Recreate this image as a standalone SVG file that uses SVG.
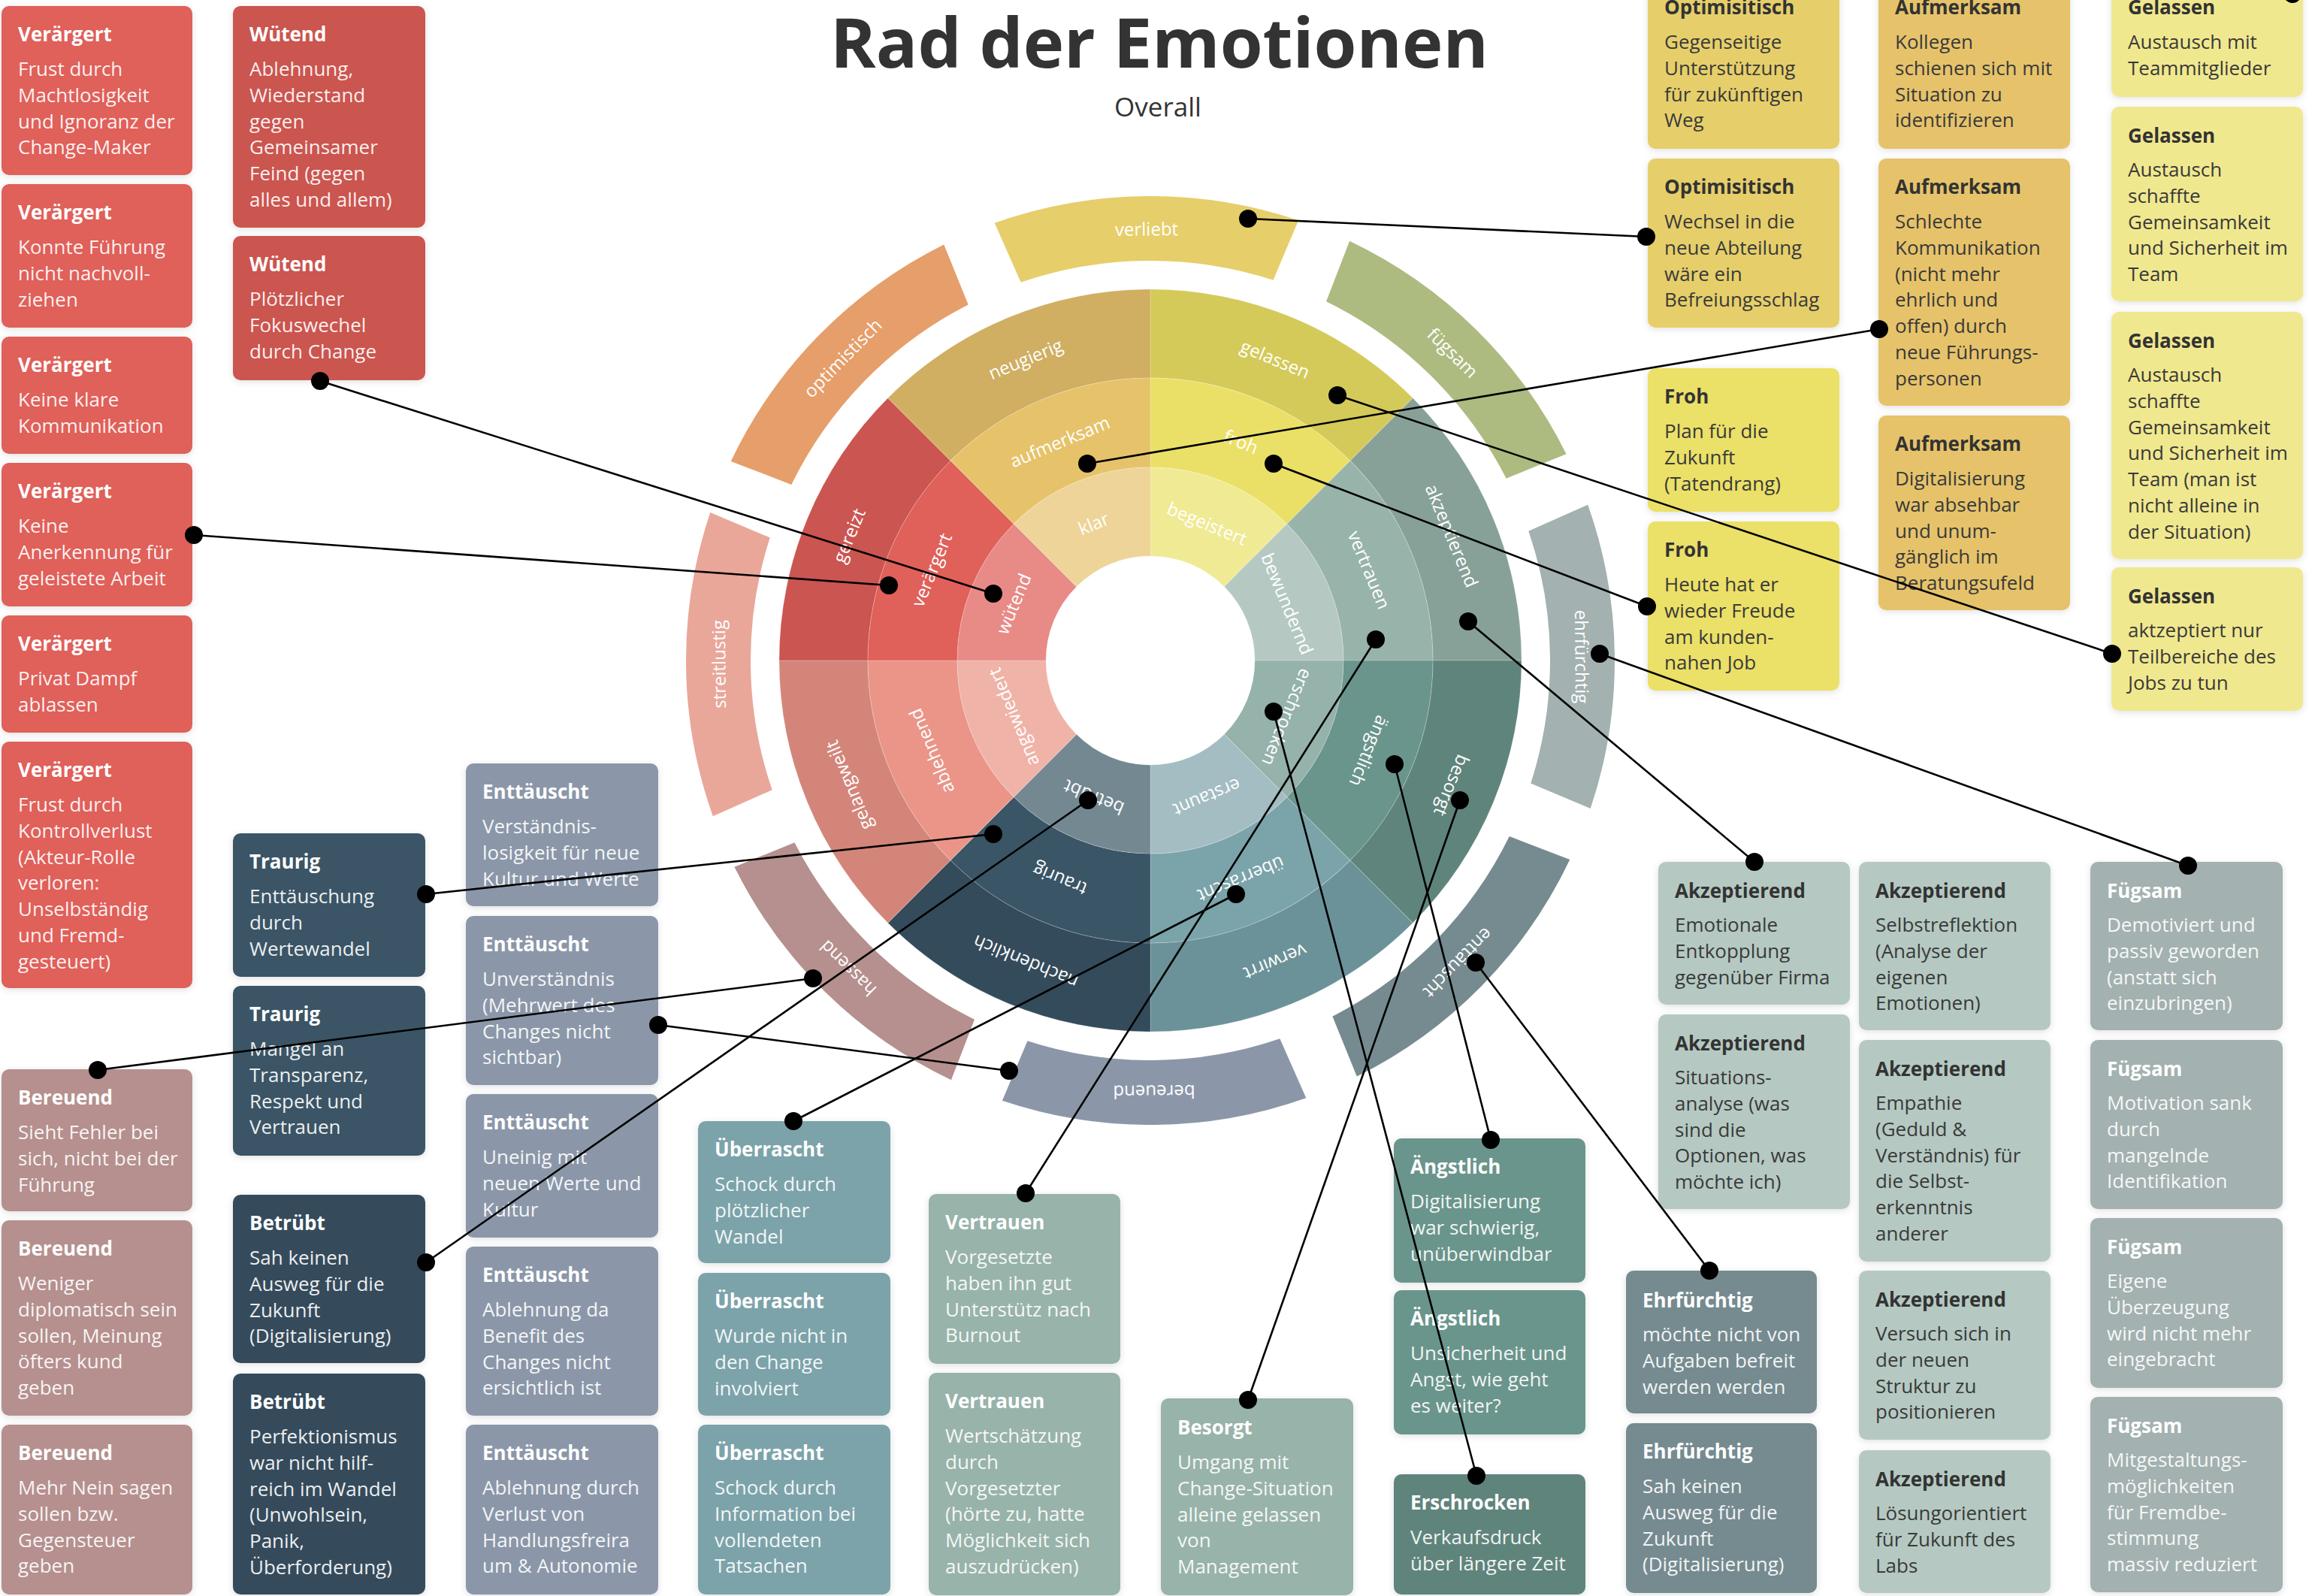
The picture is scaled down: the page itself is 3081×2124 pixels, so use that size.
<svg xmlns="http://www.w3.org/2000/svg" width="3081" height="2124" viewBox="0 0 3081 2124">
<defs>
  <style>
    text { font-family: "Open Sans", "Noto Sans", "DejaVu Sans", sans-serif; }
    .card { filter: url(#sh); }
    .t { font-weight: 700; font-size: 26px; }
    .b { font-weight: 400; font-size: 26px; }
    .w { fill: #ffffff; }
    .wb { fill: #ffffff; fill-opacity: 0.92; }
    .d { fill: #333333; }
    .db { fill: #3a3a3a; }
    .lbl { fill: #ffffff; font-size: 24px; text-anchor: middle; dominant-baseline: central; }
    .seg { stroke: #ffffff; stroke-opacity: 0.22; stroke-width: 1; }
    .cn line { stroke: #000000; stroke-width: 2.6; }
    .cn circle { fill: #000000; }
    .c-verargert { fill: #E0605A; }
    .c-wutend { fill: #CB5550; }
    .c-bereuend { fill: #B5908E; }
    .c-traurig { fill: #3A5566; }
    .c-betrubt { fill: #344B5B; }
    .c-enttauscht { fill: #8B97A9; }
    .c-uberrascht { fill: #7BA3AA; }
    .c-vertrauen { fill: #98B3AA; }
    .c-besorgt { fill: #98B3AA; }
    .c-angstlich { fill: #6A958C; }
    .c-erschrocken { fill: #5F847C; }
    .c-ehrfurchtig { fill: #768B90; }
    .c-akzeptierend { fill: #B5C9C2; }
    .c-fugsam { fill: #A3B1B0; }
    .c-optimistisch { fill: #E6CF6A; }
    .c-aufmerksam { fill: #E6C36A; }
    .c-froh { fill: #EBE067; }
    .c-gelassen { fill: #F0E88E; }
  </style>
  <filter id="sh" x="-10%" y="-10%" width="120%" height="125%">
    <feDropShadow dx="0" dy="2" stdDeviation="5" flood-color="#000000" flood-opacity="0.12"/>
  </filter>
  <!-- 45 degree ring segments, starting at 12 o'clock and running clockwise -->
  <path id="s1" class="seg" d="M0,-257 A257,257 0 0 1 181.73,-181.73 L98.29,-98.29 A139,139 0 0 0 0,-139 Z"/>
  <path id="s2" class="seg" d="M0,-376 A376,376 0 0 1 265.87,-265.87 L181.73,-181.73 A257,257 0 0 0 0,-257 Z"/>
  <path id="s3" class="seg" d="M0,-494 A494,494 0 0 1 349.31,-349.31 L265.87,-265.87 A376,376 0 0 0 0,-376 Z"/>
  <!-- outer band segment centred on 12 o'clock -->
  <path id="oa" d="M-202.22,-583.98 A618,618 0 0 1 202.22,-583.98 L167.93,-504.8 A532,532 0 0 0 -167.93,-504.8 Z"/>
</defs>

<rect x="0" y="0" width="3081" height="2124" fill="#ffffff"/>

<!-- heading -->
<g id="title">
  <text x="1543" y="90" text-anchor="middle" font-size="92" font-weight="700" fill="#333333">Rad der Emotionen</text>
  <text x="1541" y="155" text-anchor="middle" font-size="35" fill="#333333">Overall</text>
</g>

<!-- emotion wheel -->
<g id="wheel" transform="translate(1531,879)">
  <g id="sector-gelassen" transform="rotate(0)">
    <use href="#s3" fill="#D4CA5A"/><use href="#s2" fill="#EBE067"/><use href="#s1" fill="#F0EA94"/>
  </g>
  <g id="sector-akzeptierend" transform="rotate(45)">
    <use href="#s3" fill="#88A198"/><use href="#s2" fill="#98B3AA"/><use href="#s1" fill="#B5C9C2"/>
  </g>
  <g id="sector-besorgt" transform="rotate(90)">
    <use href="#s3" fill="#5F847C"/><use href="#s2" fill="#6A958C"/><use href="#s1" fill="#95B2AB"/>
  </g>
  <g id="sector-verwirrt" transform="rotate(135)">
    <use href="#s3" fill="#6B9298"/><use href="#s2" fill="#7BA3AA"/><use href="#s1" fill="#A3BDC2"/>
  </g>
  <g id="sector-nachdenklich" transform="rotate(180)">
    <use href="#s3" fill="#344B5B"/><use href="#s2" fill="#3A5566"/><use href="#s1" fill="#738891"/>
  </g>
  <g id="sector-gelangweilt" transform="rotate(225)">
    <use href="#s3" fill="#D48579"/><use href="#s2" fill="#EA9588"/><use href="#s1" fill="#F0B3A8"/>
  </g>
  <g id="sector-gereizt" transform="rotate(270)">
    <use href="#s3" fill="#CB5550"/><use href="#s2" fill="#E0605A"/><use href="#s1" fill="#E88A86"/>
  </g>
  <g id="sector-neugierig" transform="rotate(315)">
    <use href="#s3" fill="#D0AE62"/><use href="#s2" fill="#E6C36A"/><use href="#s1" fill="#EED498"/>
  </g>

  <!-- ring labels, turned with their sector -->
  <g class="lbl">
    <g transform="rotate(22.5)"><text class="lbl" y="-435">gelassen</text><text class="lbl" y="-316">froh</text><text class="lbl" y="-198">begeistert</text></g>
    <g transform="rotate(67.5)"><text class="lbl" y="-435">akzeptierend</text><text class="lbl" y="-316">vertrauen</text><text class="lbl" y="-198">bewundernd</text></g>
    <g transform="rotate(112.5)"><text class="lbl" y="-435">besorgt</text><text class="lbl" y="-316">ängstlich</text><text class="lbl" y="-198">erschrocken</text></g>
    <g transform="rotate(157.5)"><text class="lbl" y="-435">verwirrt</text><text class="lbl" y="-316">überrascht</text><text class="lbl" y="-198">erstaunt</text></g>
    <g transform="rotate(202.5)"><text class="lbl" y="-435">nachdenklich</text><text class="lbl" y="-316">traurig</text><text class="lbl" y="-198">betrübt</text></g>
    <g transform="rotate(247.5)"><text class="lbl" y="-435">gelangweilt</text><text class="lbl" y="-316">ablehnend</text><text class="lbl" y="-198">angewiedert</text></g>
    <g transform="rotate(292.5)"><text class="lbl" y="-435">gereizt</text><text class="lbl" y="-316">verärgert</text><text class="lbl" y="-198">wütend</text></g>
    <g transform="rotate(337.5)"><text class="lbl" y="-435">neugierig</text><text class="lbl" y="-316">aufmerksam</text><text class="lbl" y="-198">klar</text></g>
  </g>

  <!-- outer band -->
  <g id="arc-verliebt" transform="rotate(-0.5)"><use href="#oa" fill="#E6CE6A"/><text class="lbl" y="-575">verliebt</text></g>
  <g id="arc-fugsam" transform="rotate(44.5)"><use href="#oa" fill="#ADBB80"/><text class="lbl" y="-575">fügsam</text></g>
  <g id="arc-ehrfurchtig" transform="rotate(89.5)"><use href="#oa" fill="#A3B1B0"/><text class="lbl" y="-575">ehrfürchtig</text></g>
  <g id="arc-enttauscht" transform="rotate(134.5)"><use href="#oa" fill="#768B90"/><text class="lbl" y="-575">enttäuscht</text></g>
  <g id="arc-bereuend" transform="rotate(179.5)"><use href="#oa" fill="#8B97A9"/><text class="lbl" y="-575">bereuend</text></g>
  <g id="arc-hassend" transform="rotate(224.5)"><use href="#oa" fill="#B5908E"/><text class="lbl" y="-575">hassend</text></g>
  <g id="arc-streitlustig" transform="rotate(269.5)"><use href="#oa" fill="#E9A79A"/><text class="lbl" y="-575">streitlustig</text></g>
  <g id="arc-optimistisch" transform="rotate(314.5)"><use href="#oa" fill="#E69E6A"/><text class="lbl" y="-575">optimistisch</text></g>
</g>

<!-- ===== cards: left column ===== -->
<g id="card-verargert-1" transform="translate(2,8)">
  <rect class="card c-verargert" width="254" height="225" rx="10"/>
  <text class="t w" x="22" y="47">Verärgert</text>
  <text class="b wb" y="93"><tspan x="22">Frust durch</tspan><tspan x="22" dy="34.8">Machtlosigkeit</tspan><tspan x="22" dy="34.8">und Ignoranz der</tspan><tspan x="22" dy="34.8">Change-Maker</tspan></text>
</g>
<g id="card-verargert-2" transform="translate(2,245)">
  <rect class="card c-verargert" width="254" height="191" rx="10"/>
  <text class="t w" x="22" y="47">Verärgert</text>
  <text class="b wb" y="93"><tspan x="22">Konnte Führung</tspan><tspan x="22" dy="34.8">nicht nachvoll-</tspan><tspan x="22" dy="34.8">ziehen</tspan></text>
</g>
<g id="card-verargert-3" transform="translate(2,448)">
  <rect class="card c-verargert" width="254" height="156" rx="10"/>
  <text class="t w" x="22" y="47">Verärgert</text>
  <text class="b wb" y="93"><tspan x="22">Keine klare</tspan><tspan x="22" dy="34.8">Kommunikation</tspan></text>
</g>
<g id="card-verargert-4" transform="translate(2,616)">
  <rect class="card c-verargert" width="254" height="191" rx="10"/>
  <text class="t w" x="22" y="47">Verärgert</text>
  <text class="b wb" y="93"><tspan x="22">Keine</tspan><tspan x="22" dy="34.8">Anerkennung für</tspan><tspan x="22" dy="34.8">geleistete Arbeit</tspan></text>
</g>
<g id="card-verargert-5" transform="translate(2,819)">
  <rect class="card c-verargert" width="254" height="156" rx="10"/>
  <text class="t w" x="22" y="47">Verärgert</text>
  <text class="b wb" y="93"><tspan x="22">Privat Dampf</tspan><tspan x="22" dy="34.8">ablassen</tspan></text>
</g>
<g id="card-verargert-6" transform="translate(2,987)">
  <rect class="card c-verargert" width="254" height="328" rx="10"/>
  <text class="t w" x="22" y="47">Verärgert</text>
  <text class="b wb" y="93"><tspan x="22">Frust durch</tspan><tspan x="22" dy="34.8">Kontrollverlust</tspan><tspan x="22" dy="34.8">(Akteur-Rolle</tspan><tspan x="22" dy="34.8">verloren:</tspan><tspan x="22" dy="34.8">Unselbständig</tspan><tspan x="22" dy="34.8">und Fremd-</tspan><tspan x="22" dy="34.8">gesteuert)</tspan></text>
</g>
<g id="card-bereuend-1" transform="translate(2,1423)">
  <rect class="card c-bereuend" width="254" height="189" rx="10"/>
  <text class="t w" x="22" y="47">Bereuend</text>
  <text class="b wb" y="93"><tspan x="22">Sieht Fehler bei</tspan><tspan x="22" dy="34.8">sich, nicht bei der</tspan><tspan x="22" dy="34.8">Führung</tspan></text>
</g>
<g id="card-bereuend-2" transform="translate(2,1624)">
  <rect class="card c-bereuend" width="254" height="260" rx="10"/>
  <text class="t w" x="22" y="47">Bereuend</text>
  <text class="b wb" y="93"><tspan x="22">Weniger</tspan><tspan x="22" dy="34.8">diplomatisch sein</tspan><tspan x="22" dy="34.8">sollen, Meinung</tspan><tspan x="22" dy="34.8">öfters kund</tspan><tspan x="22" dy="34.8">geben</tspan></text>
</g>
<g id="card-bereuend-3" transform="translate(2,1896)">
  <rect class="card c-bereuend" width="254" height="226" rx="10"/>
  <text class="t w" x="22" y="47">Bereuend</text>
  <text class="b wb" y="93"><tspan x="22">Mehr Nein sagen</tspan><tspan x="22" dy="34.8">sollen bzw.</tspan><tspan x="22" dy="34.8">Gegensteuer</tspan><tspan x="22" dy="34.8">geben</tspan></text>
</g>

<!-- ===== second column ===== -->
<g id="card-wutend-1" transform="translate(310,8)">
  <rect class="card c-wutend" width="256" height="295" rx="10"/>
  <text class="t w" x="22" y="47">Wütend</text>
  <text class="b wb" y="93"><tspan x="22">Ablehnung,</tspan><tspan x="22" dy="34.8">Wiederstand</tspan><tspan x="22" dy="34.8">gegen</tspan><tspan x="22" dy="34.8">Gemeinsamer</tspan><tspan x="22" dy="34.8">Feind (gegen</tspan><tspan x="22" dy="34.8">alles und allem)</tspan></text>
</g>
<g id="card-wutend-2" transform="translate(310,314)">
  <rect class="card c-wutend" width="256" height="192" rx="10"/>
  <text class="t w" x="22" y="47">Wütend</text>
  <text class="b wb" y="93"><tspan x="22">Plötzlicher</tspan><tspan x="22" dy="34.8">Fokuswechel</tspan><tspan x="22" dy="34.8">durch Change</tspan></text>
</g>
<g id="card-traurig-1" transform="translate(310,1109)">
  <rect class="card c-traurig" width="256" height="191" rx="10"/>
  <text class="t w" x="22" y="47">Traurig</text>
  <text class="b wb" y="93"><tspan x="22">Enttäuschung</tspan><tspan x="22" dy="34.8">durch</tspan><tspan x="22" dy="34.8">Wertewandel</tspan></text>
</g>
<g id="card-traurig-2" transform="translate(310,1312)">
  <rect class="card c-traurig" width="256" height="226" rx="10"/>
  <text class="t w" x="22" y="47">Traurig</text>
  <text class="b wb" y="93"><tspan x="22">Mangel an</tspan><tspan x="22" dy="34.8">Transparenz,</tspan><tspan x="22" dy="34.8">Respekt und</tspan><tspan x="22" dy="34.8">Vertrauen</tspan></text>
</g>
<g id="card-betrubt-1" transform="translate(310,1590)">
  <rect class="card c-betrubt" width="256" height="224" rx="10"/>
  <text class="t w" x="22" y="47">Betrübt</text>
  <text class="b wb" y="93"><tspan x="22">Sah keinen</tspan><tspan x="22" dy="34.8">Ausweg für die</tspan><tspan x="22" dy="34.8">Zukunft</tspan><tspan x="22" dy="34.8">(Digitalisierung)</tspan></text>
</g>
<g id="card-betrubt-2" transform="translate(310,1828)">
  <rect class="card c-betrubt" width="256" height="294" rx="10"/>
  <text class="t w" x="22" y="47">Betrübt</text>
  <text class="b wb" y="93"><tspan x="22">Perfektionismus</tspan><tspan x="22" dy="34.8">war nicht hilf-</tspan><tspan x="22" dy="34.8">reich im Wandel</tspan><tspan x="22" dy="34.8">(Unwohlsein,</tspan><tspan x="22" dy="34.8">Panik,</tspan><tspan x="22" dy="34.8">Überforderung)</tspan></text>
</g>

<!-- ===== third column ===== -->
<g id="card-enttauscht-1" transform="translate(620,1016)">
  <rect class="card c-enttauscht" width="256" height="190" rx="10"/>
  <text class="t w" x="22" y="47">Enttäuscht</text>
  <text class="b wb" y="93"><tspan x="22">Verständnis-</tspan><tspan x="22" dy="34.8">losigkeit für neue</tspan><tspan x="22" dy="34.8">Kultur und Werte</tspan></text>
</g>
<g id="card-enttauscht-2" transform="translate(620,1219)">
  <rect class="card c-enttauscht" width="256" height="225" rx="10"/>
  <text class="t w" x="22" y="47">Enttäuscht</text>
  <text class="b wb" y="93"><tspan x="22">Unverständnis</tspan><tspan x="22" dy="34.8">(Mehrwert des</tspan><tspan x="22" dy="34.8">Changes nicht</tspan><tspan x="22" dy="34.8">sichtbar)</tspan></text>
</g>
<g id="card-enttauscht-3" transform="translate(620,1456)">
  <rect class="card c-enttauscht" width="256" height="191" rx="10"/>
  <text class="t w" x="22" y="47">Enttäuscht</text>
  <text class="b wb" y="93"><tspan x="22">Uneinig mit</tspan><tspan x="22" dy="34.8">neuen Werte und</tspan><tspan x="22" dy="34.8">Kultur</tspan></text>
</g>
<g id="card-enttauscht-4" transform="translate(620,1659)">
  <rect class="card c-enttauscht" width="256" height="225" rx="10"/>
  <text class="t w" x="22" y="47">Enttäuscht</text>
  <text class="b wb" y="93"><tspan x="22">Ablehnung da</tspan><tspan x="22" dy="34.8">Benefit des</tspan><tspan x="22" dy="34.8">Changes nicht</tspan><tspan x="22" dy="34.8">ersichtlich ist</tspan></text>
</g>
<g id="card-enttauscht-5" transform="translate(620,1896)">
  <rect class="card c-enttauscht" width="256" height="226" rx="10"/>
  <text class="t w" x="22" y="47">Enttäuscht</text>
  <text class="b wb" y="93"><tspan x="22">Ablehnung durch</tspan><tspan x="22" dy="34.8">Verlust von</tspan><tspan x="22" dy="34.8">Handlungsfreira</tspan><tspan x="22" dy="34.8">um &amp; Autonomie</tspan></text>
</g>

<!-- ===== fourth column ===== -->
<g id="card-uberrascht-1" transform="translate(929,1492)">
  <rect class="card c-uberrascht" width="256" height="189" rx="10"/>
  <text class="t w" x="22" y="47">Überrascht</text>
  <text class="b wb" y="93"><tspan x="22">Schock durch</tspan><tspan x="22" dy="34.8">plötzlicher</tspan><tspan x="22" dy="34.8">Wandel</tspan></text>
</g>
<g id="card-uberrascht-2" transform="translate(929,1694)">
  <rect class="card c-uberrascht" width="256" height="190" rx="10"/>
  <text class="t w" x="22" y="47">Überrascht</text>
  <text class="b wb" y="93"><tspan x="22">Wurde nicht in</tspan><tspan x="22" dy="34.8">den Change</tspan><tspan x="22" dy="34.8">involviert</tspan></text>
</g>
<g id="card-uberrascht-3" transform="translate(929,1896)">
  <rect class="card c-uberrascht" width="256" height="226" rx="10"/>
  <text class="t w" x="22" y="47">Überrascht</text>
  <text class="b wb" y="93"><tspan x="22">Schock durch</tspan><tspan x="22" dy="34.8">Information bei</tspan><tspan x="22" dy="34.8">vollendeten</tspan><tspan x="22" dy="34.8">Tatsachen</tspan></text>
</g>

<!-- ===== fifth column ===== -->
<g id="card-vertrauen-1" transform="translate(1236,1589)">
  <rect class="card c-vertrauen" width="255" height="226" rx="10"/>
  <text class="t w" x="22" y="47">Vertrauen</text>
  <text class="b wb" y="93"><tspan x="22">Vorgesetzte</tspan><tspan x="22" dy="34.8">haben ihn gut</tspan><tspan x="22" dy="34.8">Unterstütz nach</tspan><tspan x="22" dy="34.8">Burnout</tspan></text>
</g>
<g id="card-vertrauen-2" transform="translate(1236,1827)">
  <rect class="card c-vertrauen" width="255" height="296" rx="10"/>
  <text class="t w" x="22" y="47">Vertrauen</text>
  <text class="b wb" y="93"><tspan x="22">Wertschätzung</tspan><tspan x="22" dy="34.8">durch</tspan><tspan x="22" dy="34.8">Vorgesetzter</tspan><tspan x="22" dy="34.8">(hörte zu, hatte</tspan><tspan x="22" dy="34.8">Möglichkeit sich</tspan><tspan x="22" dy="34.8">auszudrücken)</tspan></text>
</g>

<!-- ===== sixth column ===== -->
<g id="card-besorgt-1" transform="translate(1545,1861)">
  <rect class="card c-besorgt" width="256" height="262" rx="10"/>
  <text class="t w" x="22" y="48">Besorgt</text>
  <text class="b wb" y="94"><tspan x="22">Umgang mit</tspan><tspan x="22" dy="34.8">Change-Situation</tspan><tspan x="22" dy="34.8">alleine gelassen</tspan><tspan x="22" dy="34.8">von</tspan><tspan x="22" dy="34.8">Management</tspan></text>
</g>

<!-- ===== seventh column ===== -->
<g id="card-angstlich-1" transform="translate(1855,1515)">
  <rect class="card c-angstlich" width="255" height="192" rx="10"/>
  <text class="t w" x="22" y="47">Ängstlich</text>
  <text class="b wb" y="93"><tspan x="22">Digitalisierung</tspan><tspan x="22" dy="34.8">war schwierig,</tspan><tspan x="22" dy="34.8">unüberwindbar</tspan></text>
</g>
<g id="card-angstlich-2" transform="translate(1855,1717)">
  <rect class="card c-angstlich" width="255" height="192" rx="10"/>
  <text class="t w" x="22" y="47">Ängstlich</text>
  <text class="b wb" y="93"><tspan x="22">Unsicherheit und</tspan><tspan x="22" dy="34.8">Angst, wie geht</tspan><tspan x="22" dy="34.8">es weiter?</tspan></text>
</g>
<g id="card-erschrocken-1" transform="translate(1855,1962)">
  <rect class="card c-erschrocken" width="255" height="160" rx="10"/>
  <text class="t w" x="22" y="47">Erschrocken</text>
  <text class="b wb" y="93"><tspan x="22">Verkaufsdruck</tspan><tspan x="22" dy="34.8">über längere Zeit</tspan></text>
</g>

<!-- ===== eighth column ===== -->
<g id="card-ehrfurchtig-1" transform="translate(2164,1691)">
  <rect class="card c-ehrfurchtig" width="254" height="190" rx="10"/>
  <text class="t w" x="22" y="49">Ehrfürchtig</text>
  <text class="b wb" y="94"><tspan x="22">möchte nicht von</tspan><tspan x="22" dy="34.8">Aufgaben befreit</tspan><tspan x="22" dy="34.8">werden werden</tspan></text>
</g>
<g id="card-ehrfurchtig-2" transform="translate(2164,1894)">
  <rect class="card c-ehrfurchtig" width="254" height="226" rx="10"/>
  <text class="t w" x="22" y="47">Ehrfürchtig</text>
  <text class="b wb" y="93"><tspan x="22">Sah keinen</tspan><tspan x="22" dy="34.8">Ausweg für die</tspan><tspan x="22" dy="34.8">Zukunft</tspan><tspan x="22" dy="34.8">(Digitalisierung)</tspan></text>
</g>

<!-- ===== Akzeptierend columns ===== -->
<g id="card-akzeptierend-1" transform="translate(2207,1147)">
  <rect class="card c-akzeptierend" width="255" height="190" rx="10"/>
  <text class="t d" x="22" y="48">Akzeptierend</text>
  <text class="b db" y="93"><tspan x="22">Emotionale</tspan><tspan x="22" dy="34.8">Entkopplung</tspan><tspan x="22" dy="34.8">gegenüber Firma</tspan></text>
</g>
<g id="card-akzeptierend-2" transform="translate(2207,1350)">
  <rect class="card c-akzeptierend" width="255" height="259" rx="10"/>
  <text class="t d" x="22" y="48">Akzeptierend</text>
  <text class="b db" y="93"><tspan x="22">Situations-</tspan><tspan x="22" dy="34.8">analyse (was</tspan><tspan x="22" dy="34.8">sind die</tspan><tspan x="22" dy="34.8">Optionen, was</tspan><tspan x="22" dy="34.8">möchte ich)</tspan></text>
</g>
<g id="card-akzeptierend-3" transform="translate(2474,1147)">
  <rect class="card c-akzeptierend" width="255" height="224" rx="10"/>
  <text class="t d" x="22" y="48">Akzeptierend</text>
  <text class="b db" y="93"><tspan x="22">Selbstreflektion</tspan><tspan x="22" dy="34.8">(Analyse der</tspan><tspan x="22" dy="34.8">eigenen</tspan><tspan x="22" dy="34.8">Emotionen)</tspan></text>
</g>
<g id="card-akzeptierend-4" transform="translate(2474,1384)">
  <rect class="card c-akzeptierend" width="255" height="295" rx="10"/>
  <text class="t d" x="22" y="48">Akzeptierend</text>
  <text class="b db" y="93"><tspan x="22">Empathie</tspan><tspan x="22" dy="34.8">(Geduld &amp;</tspan><tspan x="22" dy="34.8">Verständnis) für</tspan><tspan x="22" dy="34.8">die Selbst-</tspan><tspan x="22" dy="34.8">erkenntnis</tspan><tspan x="22" dy="34.8">anderer</tspan></text>
</g>
<g id="card-akzeptierend-5" transform="translate(2474,1691)">
  <rect class="card c-akzeptierend" width="255" height="225" rx="10"/>
  <text class="t d" x="22" y="48">Akzeptierend</text>
  <text class="b db" y="93"><tspan x="22">Versuch sich in</tspan><tspan x="22" dy="34.8">der neuen</tspan><tspan x="22" dy="34.8">Struktur zu</tspan><tspan x="22" dy="34.8">positionieren</tspan></text>
</g>
<g id="card-akzeptierend-6" transform="translate(2474,1930)">
  <rect class="card c-akzeptierend" width="255" height="190" rx="10"/>
  <text class="t d" x="22" y="48">Akzeptierend</text>
  <text class="b db" y="93"><tspan x="22">Lösungorientiert</tspan><tspan x="22" dy="34.8">für Zukunft des</tspan><tspan x="22" dy="34.8">Labs</tspan></text>
</g>

<!-- ===== Fügsam column ===== -->
<g id="card-fugsam-1" transform="translate(2782,1147)">
  <rect class="card c-fugsam" width="256" height="224" rx="10"/>
  <text class="t w" x="22" y="48">Fügsam</text>
  <text class="b wb" y="93"><tspan x="22">Demotiviert und</tspan><tspan x="22" dy="34.8">passiv geworden</tspan><tspan x="22" dy="34.8">(anstatt sich</tspan><tspan x="22" dy="34.8">einzubringen)</tspan></text>
</g>
<g id="card-fugsam-2" transform="translate(2782,1384)">
  <rect class="card c-fugsam" width="256" height="225" rx="10"/>
  <text class="t w" x="22" y="48">Fügsam</text>
  <text class="b wb" y="93"><tspan x="22">Motivation sank</tspan><tspan x="22" dy="34.8">durch</tspan><tspan x="22" dy="34.8">mangelnde</tspan><tspan x="22" dy="34.8">Identifikation</tspan></text>
</g>
<g id="card-fugsam-3" transform="translate(2782,1621)">
  <rect class="card c-fugsam" width="256" height="226" rx="10"/>
  <text class="t w" x="22" y="48">Fügsam</text>
  <text class="b wb" y="93"><tspan x="22">Eigene</tspan><tspan x="22" dy="34.8">Überzeugung</tspan><tspan x="22" dy="34.8">wird nicht mehr</tspan><tspan x="22" dy="34.8">eingebracht</tspan></text>
</g>
<g id="card-fugsam-4" transform="translate(2782,1859)">
  <rect class="card c-fugsam" width="256" height="260" rx="10"/>
  <text class="t w" x="22" y="48">Fügsam</text>
  <text class="b wb" y="93"><tspan x="22">Mitgestaltungs-</tspan><tspan x="22" dy="34.8">möglichkeiten</tspan><tspan x="22" dy="34.8">für Fremdbe-</tspan><tspan x="22" dy="34.8">stimmung</tspan><tspan x="22" dy="34.8">massiv reduziert</tspan></text>
</g>

<!-- ===== top right ===== -->
<g id="card-optimisitisch-1" transform="translate(2193,-28)">
  <rect class="card c-optimistisch" width="255" height="226" rx="10"/>
  <text class="t d" x="22" y="47">Optimisitisch</text>
  <text class="b db" y="93"><tspan x="22">Gegenseitige</tspan><tspan x="22" dy="34.8">Unterstützung</tspan><tspan x="22" dy="34.8">für zukünftigen</tspan><tspan x="22" dy="34.8">Weg</tspan></text>
</g>
<g id="card-optimisitisch-2" transform="translate(2193,211)">
  <rect class="card c-optimistisch" width="255" height="225" rx="10"/>
  <text class="t d" x="22" y="47">Optimisitisch</text>
  <text class="b db" y="93"><tspan x="22">Wechsel in die</tspan><tspan x="22" dy="34.8">neue Abteilung</tspan><tspan x="22" dy="34.8">wäre ein</tspan><tspan x="22" dy="34.8">Befreiungsschlag</tspan></text>
</g>
<g id="card-froh-1" transform="translate(2193,490)">
  <rect class="card c-froh" width="255" height="191" rx="10"/>
  <text class="t d" x="22" y="47">Froh</text>
  <text class="b db" y="93"><tspan x="22">Plan für die</tspan><tspan x="22" dy="34.8">Zukunft</tspan><tspan x="22" dy="34.8">(Tatendrang)</tspan></text>
</g>
<g id="card-froh-2" transform="translate(2193,694)">
  <rect class="card c-froh" width="255" height="225" rx="10"/>
  <text class="t d" x="22" y="47">Froh</text>
  <text class="b db" y="93"><tspan x="22">Heute hat er</tspan><tspan x="22" dy="34.8">wieder Freude</tspan><tspan x="22" dy="34.8">am kunden-</tspan><tspan x="22" dy="34.8">nahen Job</tspan></text>
</g>
<g id="card-aufmerksam-1" transform="translate(2500,-28)">
  <rect class="card c-aufmerksam" width="255" height="226" rx="10"/>
  <text class="t d" x="22" y="47">Aufmerksam</text>
  <text class="b db" y="93"><tspan x="22">Kollegen</tspan><tspan x="22" dy="34.8">schienen sich mit</tspan><tspan x="22" dy="34.8">Situation zu</tspan><tspan x="22" dy="34.8">identifizieren</tspan></text>
</g>
<g id="card-aufmerksam-2" transform="translate(2500,211)">
  <rect class="card c-aufmerksam" width="255" height="329" rx="10"/>
  <text class="t d" x="22" y="47">Aufmerksam</text>
  <text class="b db" y="93"><tspan x="22">Schlechte</tspan><tspan x="22" dy="34.8">Kommunikation</tspan><tspan x="22" dy="34.8">(nicht mehr</tspan><tspan x="22" dy="34.8">ehrlich und</tspan><tspan x="22" dy="34.8">offen) durch</tspan><tspan x="22" dy="34.8">neue Führungs-</tspan><tspan x="22" dy="34.8">personen</tspan></text>
</g>
<g id="card-aufmerksam-3" transform="translate(2500,553)">
  <rect class="card c-aufmerksam" width="255" height="259" rx="10"/>
  <text class="t d" x="22" y="47">Aufmerksam</text>
  <text class="b db" y="93"><tspan x="22">Digitalisierung</tspan><tspan x="22" dy="34.8">war absehbar</tspan><tspan x="22" dy="34.8">und unum-</tspan><tspan x="22" dy="34.8">gänglich im</tspan><tspan x="22" dy="34.8">Beratungsufeld</tspan></text>
</g>
<g id="card-gelassen-1" transform="translate(2810,-28)">
  <rect class="card c-gelassen" width="255" height="157" rx="10"/>
  <text class="t d" x="22" y="47">Gelassen</text>
  <text class="b db" y="93"><tspan x="22">Austausch mit</tspan><tspan x="22" dy="34.8">Teammitglieder</tspan></text>
</g>
<g id="card-gelassen-2" transform="translate(2810,142)">
  <rect class="card c-gelassen" width="255" height="259" rx="10"/>
  <text class="t d" x="22" y="48">Gelassen</text>
  <text class="b db" y="93"><tspan x="22">Austausch</tspan><tspan x="22" dy="34.8">schaffte</tspan><tspan x="22" dy="34.8">Gemeinsamkeit</tspan><tspan x="22" dy="34.8">und Sicherheit im</tspan><tspan x="22" dy="34.8">Team</tspan></text>
</g>
<g id="card-gelassen-3" transform="translate(2810,415)">
  <rect class="card c-gelassen" width="255" height="329" rx="10"/>
  <text class="t d" x="22" y="48">Gelassen</text>
  <text class="b db" y="93"><tspan x="22">Austausch</tspan><tspan x="22" dy="34.8">schaffte</tspan><tspan x="22" dy="34.8">Gemeinsamkeit</tspan><tspan x="22" dy="34.8">und Sicherheit im</tspan><tspan x="22" dy="34.8">Team (man ist</tspan><tspan x="22" dy="34.8">nicht alleine in</tspan><tspan x="22" dy="34.8">der Situation)</tspan></text>
</g>
<g id="card-gelassen-4" transform="translate(2810,755)">
  <rect class="card c-gelassen" width="255" height="191" rx="10"/>
  <text class="t d" x="22" y="48">Gelassen</text>
  <text class="b db" y="93"><tspan x="22">aktzeptiert nur</tspan><tspan x="22" dy="34.8">Teilbereiche des</tspan><tspan x="22" dy="34.8">Jobs zu tun</tspan></text>
</g>

<!-- ===== connectors: wheel segment to card, dot at each end ===== -->
<g id="connectors" class="cn">
  <line x1="1661" y1="291" x2="2191" y2="315"/>
  <line x1="1447" y1="617" x2="2501" y2="438"/>
  <line x1="1780" y1="526" x2="2811" y2="870"/>
  <line x1="1695" y1="617" x2="2192" y2="807"/>
  <line x1="2129" y1="870" x2="2912" y2="1152"/>
  <line x1="1954" y1="827" x2="2335" y2="1147"/>
  <line x1="1831" y1="851" x2="1365" y2="1588"/>
  <line x1="1695" y1="947" x2="1965" y2="1964"/>
  <line x1="1856" y1="1017" x2="1984" y2="1517"/>
  <line x1="1943" y1="1065" x2="1661" y2="1863"/>
  <line x1="1964" y1="1281" x2="2275" y2="1691"/>
  <line x1="1645" y1="1190" x2="1056" y2="1492"/>
  <line x1="1448" y1="1065" x2="567" y2="1680"/>
  <line x1="1322" y1="1110" x2="567" y2="1190"/>
  <line x1="1082" y1="1302" x2="130" y2="1424"/>
  <line x1="1343" y1="1425" x2="876" y2="1364"/>
  <line x1="1183" y1="779" x2="258" y2="712"/>
  <line x1="1322" y1="790" x2="426" y2="507"/>

  <circle cx="1661" cy="291" r="12"/><circle cx="2191" cy="315" r="12"/>
  <circle cx="1447" cy="617" r="12"/><circle cx="2501" cy="438" r="12"/>
  <circle cx="1780" cy="526" r="12"/><circle cx="2811" cy="870" r="12"/>
  <circle cx="1695" cy="617" r="12"/><circle cx="2192" cy="807" r="12"/>
  <circle cx="2129" cy="870" r="12"/><circle cx="2912" cy="1152" r="12"/>
  <circle cx="1954" cy="827" r="12"/><circle cx="2335" cy="1147" r="12"/>
  <circle cx="1831" cy="851" r="12"/><circle cx="1365" cy="1588" r="12"/>
  <circle cx="1695" cy="947" r="12"/><circle cx="1965" cy="1964" r="12"/>
  <circle cx="1856" cy="1017" r="12"/><circle cx="1984" cy="1517" r="12"/>
  <circle cx="1943" cy="1065" r="12"/><circle cx="1661" cy="1863" r="12"/>
  <circle cx="1964" cy="1281" r="12"/><circle cx="2275" cy="1691" r="12"/>
  <circle cx="1645" cy="1190" r="12"/><circle cx="1056" cy="1492" r="12"/>
  <circle cx="1448" cy="1065" r="12"/><circle cx="567" cy="1680" r="12"/>
  <circle cx="1322" cy="1110" r="12"/><circle cx="567" cy="1190" r="12"/>
  <circle cx="1082" cy="1302" r="12"/><circle cx="130" cy="1424" r="12"/>
  <circle cx="1343" cy="1425" r="12"/><circle cx="876" cy="1364" r="12"/>
  <circle cx="1183" cy="779" r="12"/><circle cx="258" cy="712" r="12"/>
  <circle cx="1322" cy="790" r="12"/><circle cx="426" cy="507" r="12"/>
  <circle cx="3051" cy="-8" r="12"/>
</g>
</svg>
